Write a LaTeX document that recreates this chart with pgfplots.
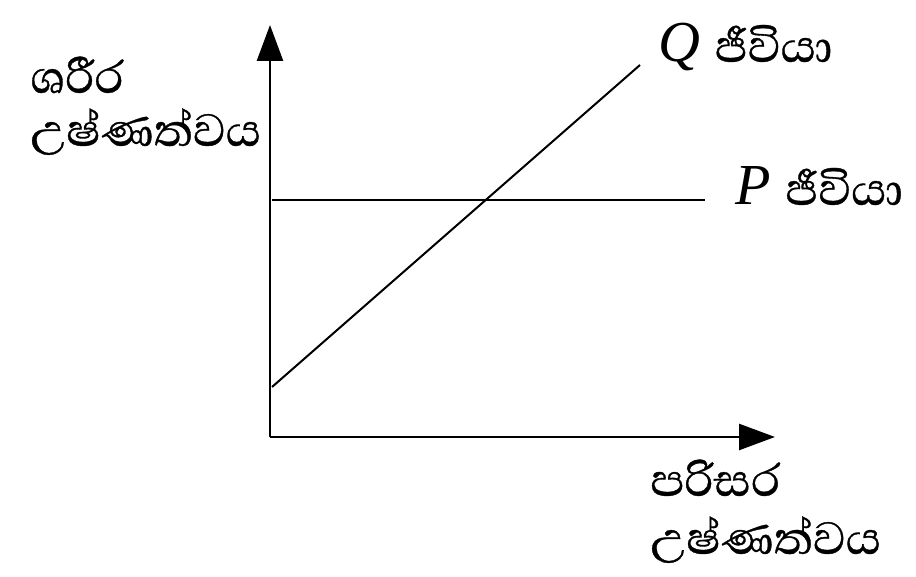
\documentclass[border=0pt]{standalone}
\usepackage{pgfplots}
\pgfplotsset{compat=1.18}
\usepackage{fontspec}
\setmainfont{Liberation Serif}
\newfontfamily\sinhala[Script=Sinhala, FakeBold=0.6]{Abhaya Libre}
\usetikzlibrary{arrows.meta}
\begin{document}
\begin{tikzpicture}
\begin{axis}[
  scale only axis,
  width=252.5pt, height=206pt,
  xmin=0, xmax=505, ymin=0, ymax=412,
  axis lines=left,
  axis line style={line width=1.3pt, -{Triangle[length=18pt,width=13pt]}},
  ticks=none,
  clip=false,
]
\addplot[black, line width=1pt] coordinates {(2,237) (435,237)};
\addplot[black, line width=1pt] coordinates {(2,50) (370,372)};
\path (axis cs:-270,-140) rectangle (axis cs:646,437);
\node[anchor=base west, inner sep=0pt, font=\fontsize{29}{34}\selectfont\sinhala] at (axis cs:-240,344) {ශරීර};
\node[anchor=base west, inner sep=0pt, font=\fontsize{29}{34}\selectfont\sinhala] at (axis cs:-240,291) {උෂ්ණත්වය};
\node[anchor=base west, inner sep=0pt, font=\fontsize{29}{34}\selectfont\sinhala] at (axis cs:380,-59) {පරිසර};
\node[anchor=base west, inner sep=0pt, font=\fontsize{29}{34}\selectfont\sinhala] at (axis cs:380,-117) {උෂ්ණත්වය};
\node[anchor=base west, inner sep=0pt, font=\fontsize{29}{34}\selectfont] at (axis cs:388,375) {\textit{Q} {\sinhala ජීවියා}};
\node[anchor=base west, inner sep=0pt, font=\fontsize{29}{34}\selectfont] at (axis cs:465,232) {\textit{P} {\sinhala ජීවියා}};
\end{axis}
\end{tikzpicture}
\end{document}
